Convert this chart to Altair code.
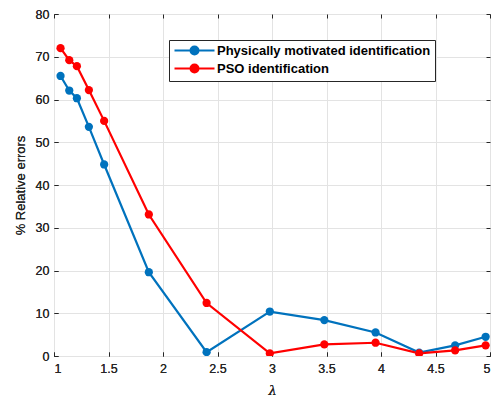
import altair as alt
import pandas as pd

lam = [1.06, 1.14, 1.21, 1.32, 1.46, 1.87, 2.40, 2.98, 3.48, 3.95, 4.35, 4.68, 4.96]
physical = [65.5, 62.1, 60.3, 53.6, 44.8, 19.6, 0.9, 10.4, 8.4, 5.5, 0.8, 2.5, 4.5]
pso = [72.0, 69.2, 67.8, 62.2, 55.0, 33.1, 12.4, 0.6, 2.7, 3.1, 0.6, 1.3, 2.5]
series_names = ["Physically motivated identification", "PSO identification"]
series_colors = ["#0072BD", "#FF0000"]
x_ticks = [1, 1.5, 2, 2.5, 3, 3.5, 4, 4.5, 5]
y_ticks = [0, 10, 20, 30, 40, 50, 60, 70, 80]

rows = []
for i, (l, p) in enumerate(zip(lam, physical)):
    rows.append({"lam": l, "err": p, "series": series_names[0], "o": i, "s": 0})
for i, (l, q) in enumerate(zip(lam, pso)):
    rows.append({"lam": l, "err": q, "series": series_names[1], "o": i, "s": 1})
df = pd.DataFrame(rows)

FONT = "Liberation Sans"
sym_path = "M-1,0H7M2.2,0A0.8,0.8,0,1,1,3.8,0A0.8,0.8,0,1,1,2.2,0Z"

xscale = alt.Scale(domain=[1, 5], nice=False, zero=False)
yscale = alt.Scale(domain=[0, 80], nice=False)

color = alt.Color(
    "series:N",
    scale=alt.Scale(domain=series_names, range=series_colors),
    legend=alt.Legend(
        title=None, orient="none", legendX=115, legendY=26,
        symbolType=sym_path, symbolSize=100, symbolStrokeWidth=2,
        labelOffset=31, labelFont=FONT, labelFontSize=13, labelFontWeight="bold",
        labelColor="black", strokeColor="#262626", fillColor="white",
        padding=4, rowPadding=1, labelLimit=400,
    ),
)

xaxis = alt.Axis(values=x_ticks, orient="bottom", offset=-4, tickSize=4, domain=False,
                 labelPadding=6, grid=True, title="λ", titleFontStyle="italic",
                 titleFontWeight="normal", titleFont="DejaVu Serif", titleFontSize=13,
                 titlePadding=10, format="~g")
yaxis = alt.Axis(values=y_ticks, orient="left", offset=-4, tickSize=4, domain=False,
                 labelPadding=5, grid=True, title="% Relative errors",
                 titleFontWeight="normal", titleFont=FONT, titleFontSize=13, titlePadding=8)

base = alt.Chart(df).encode(
    x=alt.X("lam:Q", scale=xscale, axis=xaxis),
    y=alt.Y("err:Q", scale=yscale, axis=yaxis),
    color=color,
)
lines = base.mark_line(strokeWidth=2.2, clip=True).encode(order="o:Q")
points = base.mark_point(filled=True, size=68, opacity=1, clip=True).encode(order="s:Q")

frame = alt.Chart(df).mark_point(opacity=0).encode(
    x=alt.X("lam:Q", scale=xscale,
            axis=alt.Axis(values=x_ticks, orient="top", offset=-4, tickSize=4, domain=False,
                          labels=False, grid=False, title=None)),
    y=alt.Y("err:Q", scale=yscale,
            axis=alt.Axis(values=y_ticks, orient="right", offset=-4, tickSize=4, domain=False,
                          labels=False, grid=False, title=None)),
)

chart = alt.layer(lines, points, frame).resolve_scale(
    x="independent", y="independent"
).resolve_axis(x="independent", y="independent").properties(
    width=436, height=342,
    autosize=alt.AutoSizeParams(type="none"),
    padding={"left": 54, "top": 14, "right": 7, "bottom": 43},
).configure_view(
    stroke="#262626", strokeWidth=1
).configure_axis(
    labelFont=FONT, labelFontSize=12.5, labelColor="#262626", tickColor="#262626",
    titleColor="#262626", gridColor="#e3e3e3", gridWidth=1, tickWidth=1,
)

chart.save("out.html", embed_options={"renderer": "svg", "actions": False})
